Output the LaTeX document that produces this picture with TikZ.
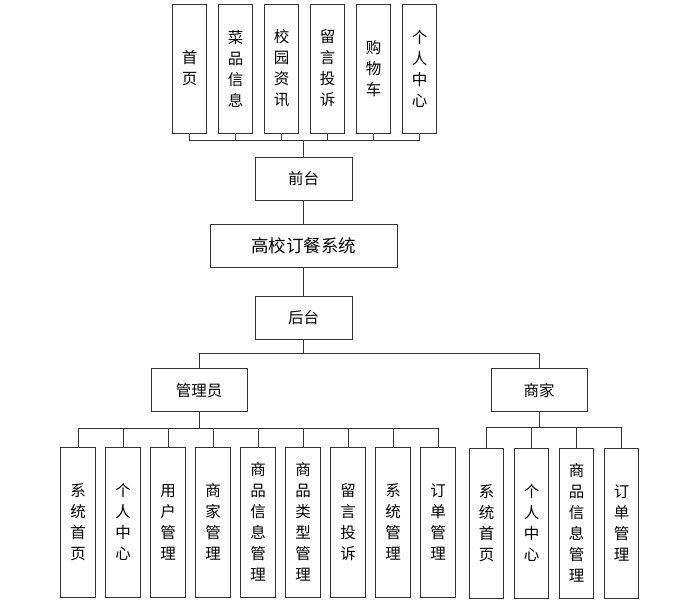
\documentclass[tikz,border=0pt]{standalone}
\usepackage{fontspec}
\setmainfont{Noto Sans CJK SC}
\usetikzlibrary{positioning}

\tikzset{
  box/.style={draw=black!80, line width=0.9pt, inner sep=0pt, align=center,
    font=\fontsize{15.5}{21}\selectfont},
  hbox/.style={box, minimum width=97pt, minimum height=43pt},
  vbox/.style={box, minimum width=34.5pt},
  link/.style={draw=black!80, line width=0.9pt}
}

\begin{document}
\begin{tikzpicture}[x=1pt,y=-1pt]
\useasboundingbox (0,0) rectangle (698,601);

\node[hbox] (qt) at (303.5,178.5) {前台};
\node[hbox, minimum width=187pt, font=\fontsize{17.5}{21}\selectfont] (sys) at (303.5,245.7) {高校订餐系统};
\node[hbox] (ht) at (303.5,318) {后台};
\node[hbox, minimum width=96pt] (gly) at (199,390.3) {管理员};
\node[hbox, minimum width=96pt] (sj) at (539,390.3) {商家};

\foreach \i/\lbl in {1/{首\\页},2/{菜\\品\\信\\息},3/{校\\园\\资\\讯},4/{留\\言\\投\\诉},5/{购\\物\\车},6/{个\\人\\中\\心}}{
  \node[vbox, minimum height=129pt] (t\i) at (189.5+46*\i-46,68.5) {\lbl};
  \draw[link] (qt.north) -- ++(0,-16) -| (t\i.south);
}

\foreach \i/\lbl in {1/{系\\统\\首\\页},2/{个\\人\\中\\心},3/{用\\户\\管\\理},4/{商\\家\\管\\理},5/{商\\品\\信\\息\\管\\理},6/{商\\品\\类\\型\\管\\理},7/{留\\言\\投\\诉},8/{系\\统\\管\\理},9/{订\\单\\管\\理}}{
  \node[vbox, minimum height=150pt] (a\i) at (78+45*\i-45,522) {\lbl};
  \draw[link] (gly.south) -- ++(0,16) -| (a\i.north);
}

\foreach \i/\lbl in {1/{系\\统\\首\\页},2/{个\\人\\中\\心},3/{商\\品\\信\\息\\管\\理},4/{订\\单\\管\\理}}{
  \node[vbox, minimum height=150pt] (m\i) at (486.5+45*\i-45,523) {\lbl};
  \draw[link] (sj.south) -- ++(0,15.5) -| (m\i.north);
}

\draw[link] (qt.south) -- (sys.north);
\draw[link] (sys.south) -- (ht.north);
\draw[link] (ht.south) -- ++(0,13.5) -| (gly.north);
\draw[link] (ht.south) -- ++(0,13.5) -| (sj.north);
\end{tikzpicture}
\end{document}
